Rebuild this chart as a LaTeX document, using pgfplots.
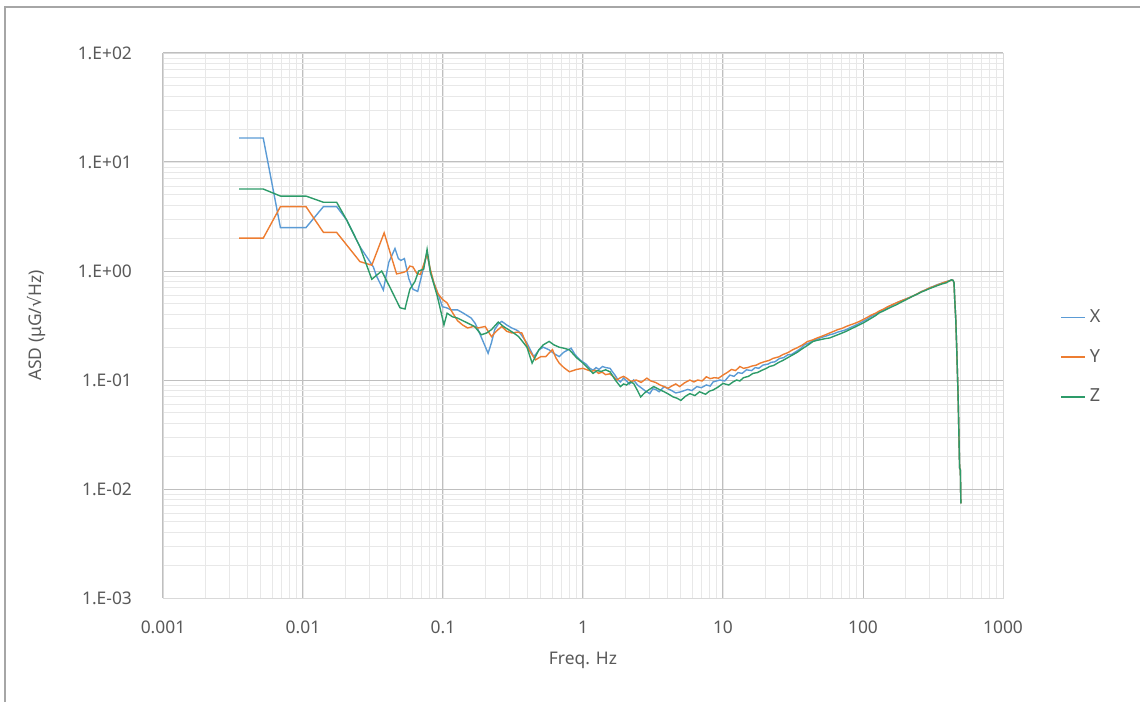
\documentclass[border=0pt]{standalone}
\usepackage{fontspec}
\setmainfont{Noto Sans}
\newfontfamily\dejavu{DejaVu Sans}
\usepackage{pgfplots}
\pgfplotsset{compat=1.18}
\definecolor{serX}{RGB}{91,155,213}
\definecolor{serY}{RGB}{237,125,49}
\definecolor{serZ}{RGB}{45,155,105}
\definecolor{txt}{RGB}{89,89,89}

\begin{document}
\begin{tikzpicture}
\useasboundingbox (0,0) rectangle (570pt,351pt);
% chart area border (only left and top show)
\draw[gray!70, line width=0.7pt] (2.5pt,0pt) -- (2.5pt,347.5pt) -- (570pt,347.5pt);
\begin{axis}[
  at={(81.5pt,52pt)}, anchor=south west,
  scale only axis, width=420pt, height=272.5pt,
  xmode=log, ymode=log,
  xmin=0.001, xmax=1000, ymin=0.001, ymax=100,
  xtick={0.001,0.01,0.1,1,10,100,1000},
  xticklabels={0.001,0.01,0.1,1,10,100,1000},
  ytick={0.001,0.01,0.1,1,10,100},
  yticklabels={1.E-03,1.E-02,1.E-01,1.E+00,1.E+01,1.E+02},
  grid=both,
  major grid style={draw=black!25, line width=0.5pt},
  minor grid style={draw=black!9, line width=0.4pt},
  axis line style={draw=black!15},
  tick style={draw=none},
  ticklabel style={font=\fontsize{8.7}{10}\selectfont, text=txt},
  xticklabel style={yshift=-8pt},
  yticklabel style={xshift=-12pt},
  xlabel={Freq. Hz},
  ylabel={ASD (μG/{\dejavu √}Hz)},
  label style={font=\fontsize{8.7}{10}\selectfont, text=txt},
  xlabel style={yshift=-2pt},
  ylabel style={yshift=9pt},
  legend style={at={(rel axis cs:1.068,0.442)}, anchor=west, draw=none, fill=none,
    font=\fontsize{9}{10}\selectfont, text=txt, row sep=8pt, inner sep=0pt},
  legend cell align=left,
  legend image code/.code={\draw[#1] (0pt,0pt) -- (12pt,0pt);},
  every axis plot/.append style={line width=0.7pt},
]
% X
\addplot[serX] coordinates {
(0.0035,16.6) (0.0052,16.6) (0.0069,2.5) (0.0105,2.5) (0.014,3.9) (0.0174,3.9)
(0.0205,2.94) (0.0255,1.67) (0.0285,1.35) (0.0318,1.09) (0.0335,0.9) (0.0375,0.67)
(0.041,1.2) (0.0454,1.61) (0.048,1.3) (0.05,1.25) (0.053,1.3) (0.057,0.85)
(0.061,0.68) (0.066,0.65) (0.071,0.95) (0.077,1.48) (0.081,1.0) (0.086,0.78)
(0.093,0.6) (0.099,0.47) (0.106,0.46) (0.114,0.44) (0.127,0.44) (0.14,0.41)
(0.159,0.37) (0.17,0.33) (0.178,0.29) (0.195,0.22) (0.21,0.176) (0.222,0.22)
(0.234,0.29) (0.25,0.33) (0.263,0.345) (0.285,0.32) (0.31,0.30) (0.33,0.29)
(0.347,0.28) (0.37,0.25) (0.398,0.218) (0.42,0.19) (0.445,0.164) (0.465,0.175)
(0.484,0.189) (0.52,0.2) (0.573,0.189) (0.62,0.175) (0.676,0.164) (0.73,0.18)
(0.822,0.196) (0.88,0.17) (0.95,0.153) (1.05,0.14) (1.12,0.128) (1.18,0.123)
(1.24,0.13) (1.3,0.125) (1.38,0.133) (1.45,0.13) (1.56,0.128) (1.63,0.118)
(1.7,0.11) (1.78,0.1) (1.85,0.096) (1.95,0.104) (2.05,0.098) (2.15,0.092)
(2.3,0.1) (2.45,0.09) (2.6,0.085) (2.8,0.079) (3.0,0.075) (3.15,0.083)
(3.3,0.082) (3.5,0.078) (3.8,0.087) (4.05,0.083) (4.3,0.08) (4.6,0.076)
(5.0,0.078) (5.6,0.082) (6.0,0.08) (6.5,0.087) (7.0,0.085) (7.6,0.09)
(8.1,0.088) (8.5,0.096) (9.5,0.1) (10.3,0.098) (11.2,0.111) (12.0,0.108)
(12.8,0.117) (13.7,0.115) (14.7,0.124) (16,0.122) (17,0.13) (18,0.128)
(19.3,0.137) (21,0.14) (22,0.145) (23.5,0.147) (25.4,0.158) (27,0.16)
(29,0.17) (31,0.172) (33.4,0.183) (36,0.195) (38,0.21) (41,0.218)
(44,0.23) (47,0.236) (50,0.245) (54,0.252) (57.8,0.26) (62,0.266)
(66,0.275) (71,0.282) (76,0.29) (81,0.302) (87,0.315) (93,0.328)
(100,0.345) (107,0.362) (115,0.385) (123,0.4) (131,0.425) (140,0.44)
(150,0.465) (161,0.485) (173,0.51) (186,0.53) (200,0.55) (214,0.57)
(228,0.59) (244,0.615) (260,0.645) (280,0.67) (299,0.70) (320,0.725)
(340,0.75) (356,0.765) (373,0.78) (390,0.795) (410,0.81) (433,0.83)
(440,0.82) (447,0.78) (452,0.55) (460,0.36) (468,0.18) (478,0.07)
(490,0.0156) (496,0.015) (500,0.0074)
};
% Y
\addplot[serY] coordinates {
(0.0035,2.0) (0.0052,2.0) (0.0069,3.9) (0.0105,3.9) (0.014,2.26) (0.0174,2.26)
(0.0255,1.22) (0.031,1.13) (0.038,2.24) (0.0466,0.94) (0.052,0.97) (0.055,1.0)
(0.058,1.11) (0.061,1.09) (0.065,0.95) (0.069,0.93) (0.077,1.43) (0.081,1.05)
(0.086,0.78) (0.092,0.62) (0.099,0.55) (0.107,0.51) (0.115,0.43) (0.127,0.35)
(0.138,0.32) (0.150,0.30) (0.165,0.31) (0.178,0.30) (0.2,0.31) (0.222,0.25)
(0.24,0.28) (0.263,0.31) (0.285,0.28) (0.31,0.27) (0.34,0.275) (0.366,0.27)
(0.41,0.19) (0.458,0.153) (0.5,0.164) (0.542,0.164) (0.605,0.19) (0.64,0.16)
(0.676,0.143) (0.73,0.13) (0.8,0.119) (0.9,0.125) (1.0,0.128) (1.07,0.124)
(1.15,0.12) (1.22,0.123) (1.29,0.115) (1.37,0.118) (1.45,0.112) (1.55,0.114)
(1.64,0.108) (1.75,0.1) (1.85,0.105) (1.95,0.108) (2.05,0.104) (2.2,0.097)
(2.4,0.1) (2.6,0.095) (2.86,0.104) (3.05,0.098) (3.3,0.095) (3.55,0.09)
(3.8,0.087) (4.05,0.084) (4.3,0.088) (4.6,0.092) (4.9,0.087) (5.3,0.094)
(5.8,0.1) (6.2,0.096) (6.6,0.1) (7.1,0.098) (7.6,0.107) (8.1,0.103)
(8.7,0.105) (9.3,0.104) (10,0.111) (10.7,0.117) (11.5,0.125) (12.3,0.122)
(13.2,0.133) (14,0.128) (15,0.13) (16,0.134) (17.3,0.137) (18.5,0.143)
(20,0.148) (21.3,0.151) (22.8,0.158) (25,0.163) (27,0.172) (29,0.178)
(31.6,0.19) (34,0.198) (37,0.21) (40,0.225) (44,0.234) (47,0.243)
(50,0.25) (54,0.26) (57.8,0.27) (62,0.28) (66,0.29) (71,0.298)
(76,0.31) (81,0.32) (87,0.33) (93,0.342) (100,0.358) (107,0.375)
(115,0.395) (123,0.41) (131,0.43) (140,0.447) (150,0.47) (161,0.49)
(173,0.51) (186,0.53) (200,0.55) (214,0.57) (228,0.59) (244,0.617)
(260,0.645) (280,0.672) (299,0.70) (320,0.722) (340,0.745) (356,0.762)
(373,0.78) (390,0.795) (410,0.81) (433,0.826) (440,0.82) (447,0.78)
(452,0.55) (460,0.36) (468,0.18) (478,0.07) (490,0.0156) (496,0.015)
(500,0.0074)
};
% Z
\addplot[serZ] coordinates {
(0.0035,5.65) (0.0052,5.65) (0.0069,4.87) (0.0105,4.87) (0.014,4.27) (0.0174,4.27)
(0.0205,2.94) (0.0255,1.67) (0.031,0.84) (0.0365,1.0) (0.042,0.7) (0.0493,0.46)
(0.0535,0.448) (0.058,0.68) (0.063,0.8) (0.067,1.0) (0.0728,1.04) (0.077,1.58)
(0.0813,0.97) (0.091,0.59) (0.096,0.44) (0.1016,0.32) (0.107,0.41) (0.117,0.38)
(0.127,0.37) (0.145,0.34) (0.168,0.31) (0.188,0.26) (0.205,0.27) (0.222,0.29)
(0.248,0.34) (0.27,0.31) (0.293,0.29) (0.32,0.27) (0.347,0.25) (0.398,0.20)
(0.433,0.143) (0.484,0.189) (0.52,0.21) (0.573,0.226) (0.62,0.21) (0.676,0.20)
(0.74,0.195) (0.8,0.189) (0.9,0.16) (1.0,0.143) (1.09,0.128) (1.18,0.115)
(1.26,0.122) (1.35,0.12) (1.45,0.124) (1.56,0.119) (1.7,0.1) (1.85,0.087)
(1.95,0.092) (2.05,0.09) (2.18,0.096) (2.3,0.093) (2.45,0.08) (2.58,0.070)
(2.75,0.076) (2.9,0.08) (3.2,0.087) (3.5,0.082) (3.8,0.078) (4.1,0.074)
(4.4,0.07) (4.7,0.068) (5.0,0.065) (5.4,0.071) (5.8,0.075) (6.3,0.072)
(6.8,0.078) (7.5,0.074) (8.0,0.079) (8.5,0.081) (9.2,0.086) (10,0.093)
(11,0.09) (11.8,0.096) (12.5,0.1) (13.2,0.098) (14,0.105) (15.2,0.108)
(16.4,0.115) (17.6,0.117) (19,0.123) (20.2,0.127) (21.5,0.133) (23,0.136)
(25,0.145) (27,0.152) (29.9,0.164) (32,0.172) (34,0.18) (36.5,0.192)
(39,0.203) (41.5,0.214) (44,0.226) (47,0.231) (50,0.235) (54,0.24)
(57.8,0.243) (62,0.252) (66,0.26) (71,0.27) (76,0.28) (81,0.292)
(87,0.305) (93,0.318) (100,0.333) (107,0.35) (115,0.37) (123,0.39)
(131,0.414) (140,0.43) (150,0.45) (161,0.47) (173,0.49) (186,0.515)
(200,0.54) (214,0.565) (228,0.59) (244,0.613) (260,0.64) (280,0.665)
(299,0.69) (320,0.713) (340,0.735) (366,0.76) (394,0.78) (410,0.805)
(428,0.83) (440,0.82) (447,0.78) (452,0.55) (460,0.36) (468,0.18)
(478,0.07) (490,0.0156) (496,0.015) (500,0.0074)
};
\legend{X,Y,Z}
\end{axis}
\end{tikzpicture}
\end{document}
